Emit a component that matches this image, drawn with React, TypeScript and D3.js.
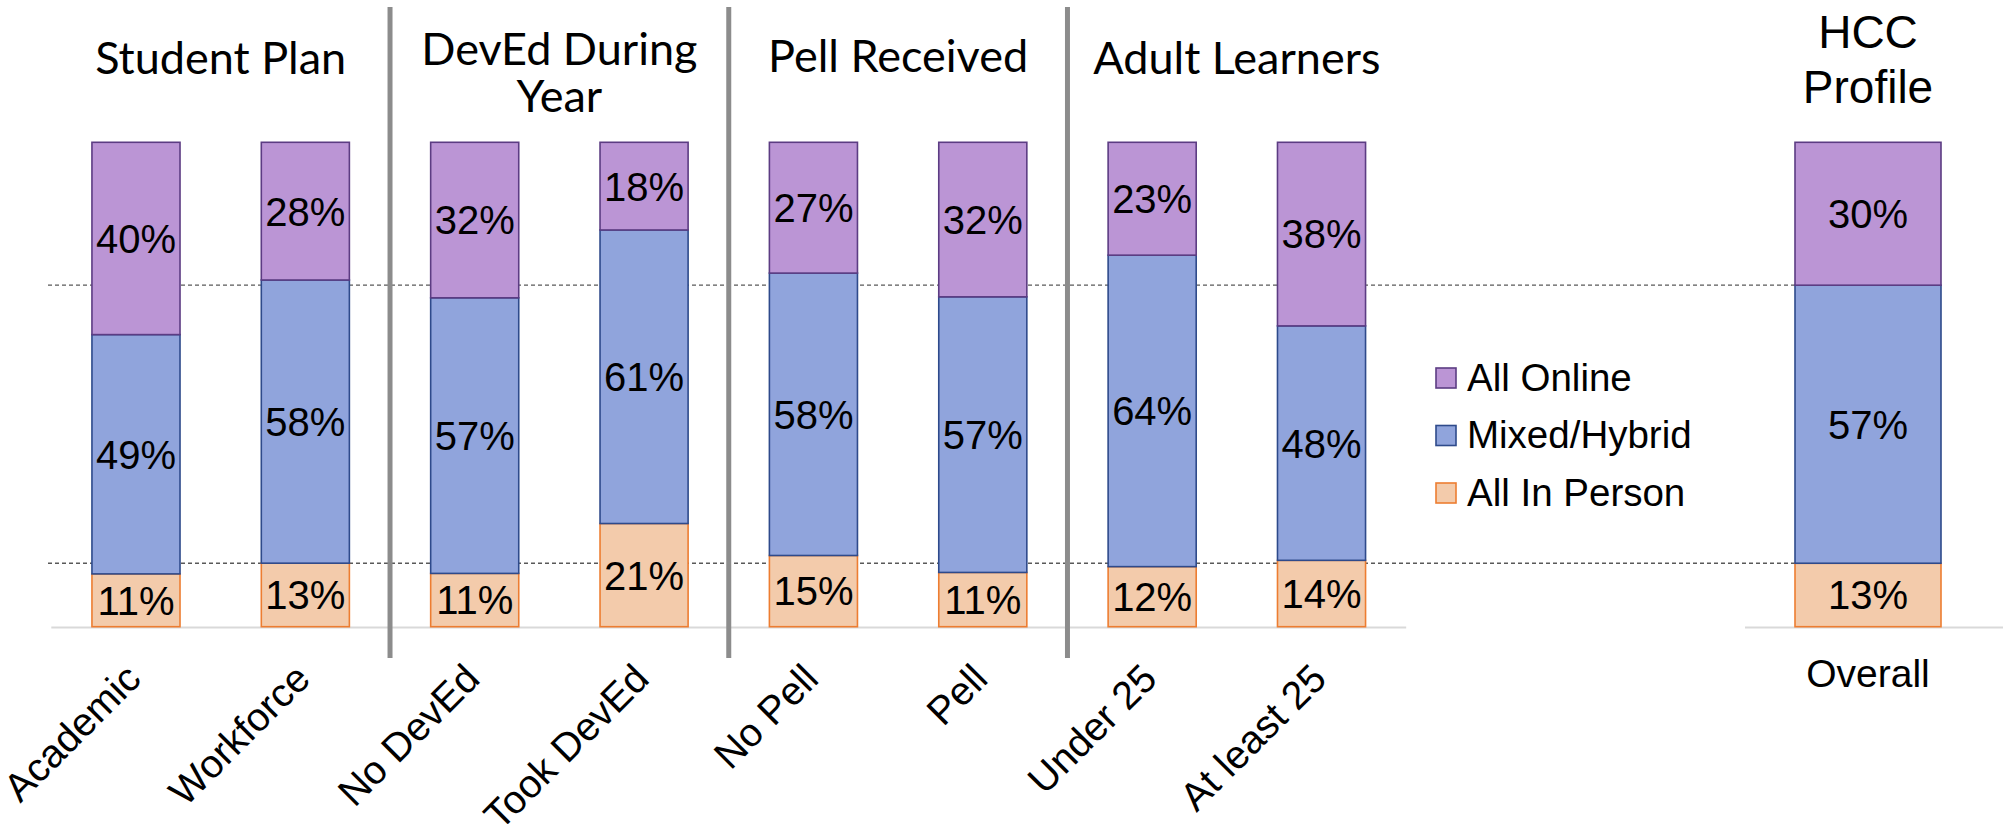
import React from 'react';
import * as d3 from 'd3';

const categories = ['Academic', 'Workforce', 'No DevEd', 'Took DevEd', 'No Pell', 'Pell', 'Under 25', 'At least 25'];
const allInPerson = [10.9, 13.1, 11.0, 21.3, 14.7, 11.2, 12.4, 13.7];
const mixedHybrid = [49.4, 58.4, 56.9, 60.6, 58.3, 56.9, 64.3, 48.4];
const allOnline = [39.7, 28.4, 32.1, 18.1, 27.0, 31.9, 23.3, 37.9];

const overallCategories = ['Overall'];
const overallInPerson = [13.1];
const overallMixed = [57.4];
const overallOnline = [29.5];

const groupTitles = [['Student Plan'], ['DevEd During', 'Year'], ['Pell Received'], ['Adult Learners']];
const profileTitle = ['HCC', 'Profile'];
const seriesKeys = ['All In Person', 'Mixed/Hybrid', 'All Online'];
const legendOrder = ['All Online', 'Mixed/Hybrid', 'All In Person'];

const fills: Record<string, string> = {
  'All Online': '#BB95D5',
  'Mixed/Hybrid': '#90A4DC',
  'All In Person': '#F3CBAB',
};
const strokes: Record<string, string> = {
  'All Online': '#5C3C83',
  'Mixed/Hybrid': '#2E4A8B',
  'All In Person': '#ED7D31',
};

const W = 2003;
const H = 824;
const LABEL_FONT = "'Liberation Sans', Arial, sans-serif";
const TITLE_FONT = "Lato, 'Open Sans', sans-serif";

function buildRows(cats: string[], a: number[], b: number[], c: number[]) {
  return cats.map((cat, i) => ({
    cat,
    'All In Person': a[i],
    'Mixed/Hybrid': b[i],
    'All Online': c[i],
  }));
}

export default function App() {
  const y = d3.scaleLinear().domain([0, 1]).range([626.7, 142.3]);
  const x = d3.scaleBand<string>().domain(categories).range([51.3, 1406.2]).paddingInner(0.48).paddingOuter(0.24);
  const xo = d3.scaleBand<string>().domain(overallCategories).range([1795, 1941]).padding(0);

  const stack = d3.stack<any>().keys(seriesKeys).offset(d3.stackOffsetExpand);
  const rows = buildRows(categories, allInPerson, mixedHybrid, allOnline);
  const orows = buildRows(overallCategories, overallInPerson, overallMixed, overallOnline);
  const series = stack(rows);
  const oseries = stack(orows);

  const dashY = oseries.slice(0, 2).map((s) => y(s[0][1]));

  const centers = categories.map((c) => (x(c) as number) + x.bandwidth() / 2);
  const separators = [1, 3, 5].map((i) => (centers[i] + centers[i + 1]) / 2);
  const titleCenters = [0, 2, 4, 6].map((i) => (centers[i] + centers[i + 1]) / 2);

  const renderBars = (ser: any[], xs: d3.ScaleBand<string>, rawRows: any[]) =>
    ser.map((s: any) => (
      <g key={s.key}>
        {s.map((d: any, i: number) => {
          const cat = d.data.cat;
          const x0 = xs(cat) as number;
          const y0 = y(d[1]);
          const y1 = y(d[0]);
          const raw = rawRows[i][s.key];
          return (
            <g key={cat}>
              <rect x={x0} y={y0} width={xs.bandwidth()} height={y1 - y0} fill={fills[s.key]} stroke={strokes[s.key]} strokeWidth={1.6} />
              <text x={x0 + xs.bandwidth() / 2} y={(y0 + y1) / 2} dy="0.36em" textAnchor="middle" fontFamily={LABEL_FONT} fontSize={40} fill="#000">
                {Math.round(raw) + '%'}
              </text>
            </g>
          );
        })}
      </g>
    ));

  return (
    <svg width={W} height={H} style={{ position: 'absolute', left: 0, top: 0, background: '#fff' }}>
      <rect x={0} y={0} width={W} height={H} fill="#fff" />
      {dashY.map((dy, i) => (
        <line key={i} x1={48} x2={1795} y1={dy} y2={dy} stroke="#595959" strokeWidth={1.3} strokeDasharray="4 3" />
      ))}
      <line x1={x.range()[0]} x2={x.range()[1]} y1={627.5} y2={627.5} stroke="#D9D9D9" strokeWidth={2} />
      <line x1={1745} x2={2003} y1={627.5} y2={627.5} stroke="#D9D9D9" strokeWidth={2} />
      {separators.map((sx, i) => (
        <line key={i} x1={sx} x2={sx} y1={7} y2={658} stroke="#8C8C8C" strokeWidth={5} />
      ))}
      {renderBars(series, x, rows)}
      {renderBars(oseries, xo, orows)}
      {groupTitles.map((lines, gi) => (
        <text key={gi} textAnchor="middle" fontFamily={TITLE_FONT} fontSize={45} fill="#000">
          {lines.map((ln, li) => (
            <tspan key={li} x={titleCenters[gi]} y={(lines.length > 1 ? 65 : gi === 2 ? 72 : 74) + li * 46.7}>
              {ln}
            </tspan>
          ))}
        </text>
      ))}
      <text textAnchor="middle" fontFamily={LABEL_FONT} fontSize={46} fill="#000">
        {profileTitle.map((ln, i) => (
          <tspan key={i} x={(xo('Overall') as number) + xo.bandwidth() / 2} y={48.3 + i * 54.4}>
            {ln}
          </tspan>
        ))}
      </text>
      {categories.map((c, i) => (
        <text key={c} transform={`translate(${centers[i] + 7},${681}) rotate(-45)`} textAnchor="end" fontFamily={LABEL_FONT} fontSize={39.5} fill="#000">
          {c}
        </text>
      ))}
      <text x={(xo('Overall') as number) + xo.bandwidth() / 2} y={687.3} textAnchor="middle" fontFamily={LABEL_FONT} fontSize={39} fill="#000">
        {overallCategories[0]}
      </text>
      {legendOrder.map((k, i) => (
        <g key={k} transform={`translate(1436,${368 + i * 57.5})`}>
          <rect x={0} y={0} width={20} height={20} fill={fills[k]} stroke={strokes[k]} strokeWidth={1.6} />
          <text x={31} y={22.5} fontFamily={LABEL_FONT} fontSize={38.5} fill="#000">
            {k}
          </text>
        </g>
      ))}
    </svg>
  );
}
